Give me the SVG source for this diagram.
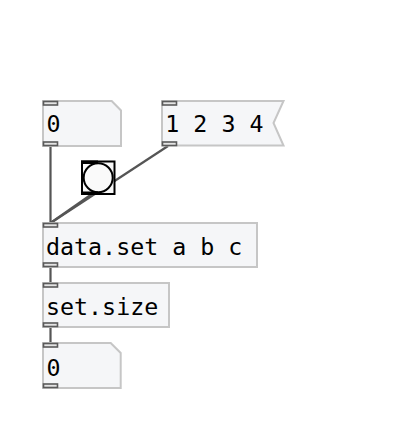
<svg xmlns="http://www.w3.org/2000/svg" width="415" height="448" viewBox="0 0 415 448">
<style>
.box{fill:#f5f6f8;stroke:#c6c6c6;stroke-width:2}
.io{fill:#e4e4e4;stroke:#5a5a5a;stroke-width:1.6}
.bio{fill:#000}
.txt{font-family:"DejaVu Sans Mono",monospace;font-size:23.3px;fill:#000}
.cord{stroke:#555;stroke-width:2.2;fill:none}
</style>
<rect width="415" height="448" fill="#fff"/>
<g id="connectors">
<line class="cord" x1="50.5" y1="146" x2="50.5" y2="223"/>
<line class="cord" x1="168" y1="146" x2="50.5" y2="223"/>
<line class="cord" x1="92" y1="194" x2="50.5" y2="223"/>
<line class="cord" x1="50.5" y1="267" x2="50.5" y2="283"/>
<line class="cord" x1="50.5" y1="327" x2="50.5" y2="343"/>
</g>
<g id="num1">
<path class="box" d="M43,101 H111.7 L121,110.5 V146 H43 Z"/>
<rect class="io" x="43.5" y="101.5" width="14" height="3.5"/>
<rect class="io" x="43.5" y="142" width="14" height="3.5"/>
<text class="txt" x="46.5" y="132">0</text>
</g>
<g id="msg">
<path class="box" d="M162,101 H283.5 L273.5,123 L283.5,145.5 H162 Z"/>
<rect class="io" x="162.5" y="101.5" width="14" height="3.5"/>
<rect class="io" x="162.5" y="142" width="14" height="3.5"/>
<text class="txt" x="165.3" y="132">1 2 3 4</text>
</g>
<g id="bang">
<rect x="82" y="161.5" width="32.5" height="32.5" fill="#f8f8f8" stroke="#000" stroke-width="2"/>
<circle cx="98.2" cy="177.7" r="14.5" fill="#fafafa" stroke="#000" stroke-width="2"/>
<rect class="bio" x="81" y="160.5" width="17" height="3.5"/>
<rect class="bio" x="81" y="191.5" width="17" height="3.5"/>
</g>
<g id="dataset">
<rect class="box" x="43" y="223" width="214" height="44"/>
<rect class="io" x="43.5" y="223.5" width="14" height="3.5"/>
<rect class="io" x="43.5" y="263" width="14" height="3.5"/>
<text class="txt" x="46" y="255">data.set a b c</text>
</g>
<g id="setsize">
<rect class="box" x="43" y="283" width="126" height="44"/>
<rect class="io" x="43.5" y="283.5" width="14" height="3.5"/>
<rect class="io" x="43.5" y="323" width="14" height="3.5"/>
<text class="txt" x="46" y="315">set.size</text>
</g>
<g id="num2">
<path class="box" d="M43,343 H110.7 L120.7,353 V388 H43 Z"/>
<rect class="io" x="43.5" y="343.5" width="14" height="3.5"/>
<rect class="io" x="43.5" y="384" width="14" height="3.5"/>
<text class="txt" x="46.5" y="376">0</text>
</g>
</svg>
